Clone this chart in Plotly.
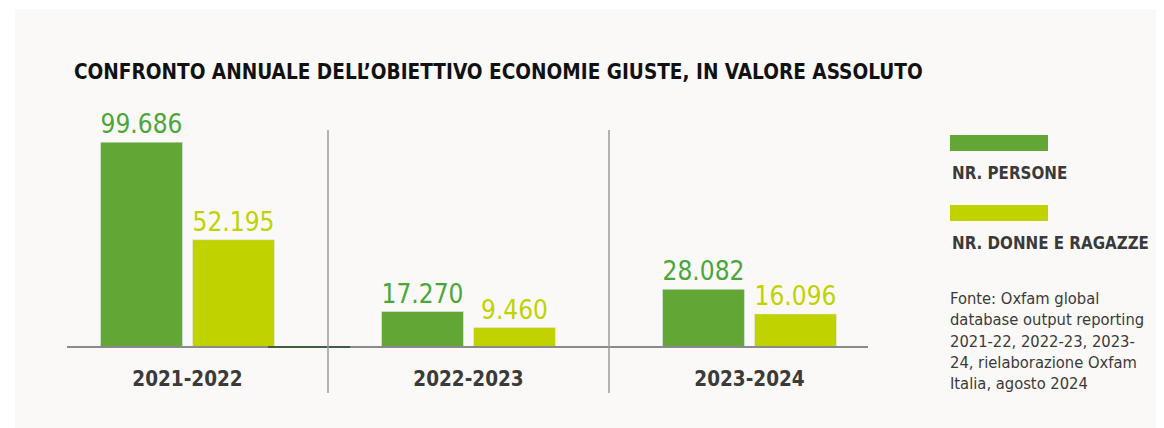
import plotly.graph_objects as go

categories = ["2021-2022", "2022-2023", "2023-2024"]
persone = [99686, 17270, 28082]
donne = [52195, 9460, 16096]
series_names = ["NR. PERSONE", "NR. DONNE E RAGAZZE"]
title_text = "CONFRONTO ANNUALE DELL’OBIETTIVO ECONOMIE GIUSTE, IN VALORE ASSOLUTO"
source_text = ("Fonte: Oxfam global<br>database output reporting<br>2021-22, 2022-23, 2023-"
               "<br>24, rielaborazione Oxfam<br>Italia, agosto 2024")

GREEN = "#62a736"
GREEN_TXT = "#4ba63a"
YELLOW = "#c0d200"
DARK = "#3a3a3a"
FONT = "DejaVu Sans Condensed, Liberation Sans Narrow, Roboto, sans-serif"

# the page body has an 8px margin; reference pixel coords are shifted by it
O = 8
W, H = 1164 - O, 428 - O
L, R, T, B = 47 - O, 274, 121 - O, 81
PW = W - L - R
PH = H - T - B


def px(x):
    return (x - O - L) / PW


def py(y):
    return (H - B - (y - O)) / PH


fig = go.Figure()
fig.add_trace(go.Bar(
    x=categories, y=persone, name=series_names[0], marker_color=GREEN,
    texttemplate="%{y:,}", textposition="outside",
    textfont=dict(color=GREEN_TXT, size=26, family=FONT), cliponaxis=False,
))
fig.add_trace(go.Bar(
    x=categories, y=donne, name=series_names[1], marker_color=YELLOW,
    texttemplate="%{y:,}", textposition="outside",
    textfont=dict(color=YELLOW, size=26, family=FONT), cliponaxis=False,
))

shapes = [
    dict(type="rect", xref="paper", yref="paper", x0=px(15), x1=px(1170), y0=py(440), y1=py(9),
         fillcolor="#faf9f7", line_width=0, layer="below"),
    dict(type="line", xref="paper", yref="paper", x0=px(67), x1=px(868), y0=0, y1=0,
         line=dict(color="#8a8a8a", width=2)),
    dict(type="line", xref="paper", yref="paper", x0=px(268), x1=px(350), y0=0, y1=0,
         line=dict(color="#3f5d40", width=2)),
]
for sep in [0.5, 1.5]:
    shapes.append(dict(type="line", xref="x", yref="paper", x0=sep, x1=sep, y0=py(393), y1=py(130),
                       line=dict(color="#9a9a9a", width=1.5)))
shapes.append(dict(type="rect", xref="paper", yref="paper", x0=px(950), x1=px(1048), y0=py(151), y1=py(135),
                   fillcolor=GREEN, line_width=0))
shapes.append(dict(type="rect", xref="paper", yref="paper", x0=px(950), x1=px(1048), y0=py(221), y1=py(205),
                   fillcolor=YELLOW, line_width=0))

annotations = [
    dict(text=title_text, xref="paper", yref="paper", x=px(72), y=py(72), xanchor="left", yanchor="middle",
         showarrow=False, font=dict(family=FONT, size=20.6, color="#111111", weight=700)),
    dict(text=series_names[0], xref="paper", yref="paper", x=px(950), y=py(173), xanchor="left",
         yanchor="middle", showarrow=False, font=dict(family=FONT, size=16.8, color=DARK, weight=700)),
    dict(text=series_names[1], xref="paper", yref="paper", x=px(950), y=py(243), xanchor="left",
         yanchor="middle", showarrow=False, font=dict(family=FONT, size=16.8, color=DARK, weight=700)),
    dict(text=source_text, xref="paper", yref="paper", x=px(948), y=py(287), xanchor="left",
         yanchor="top", align="left", showarrow=False,
         font=dict(family=FONT, size=16.4, color=DARK)),
]

fig.update_layout(
    width=W, height=H,
    margin=dict(l=L, r=R, t=T, b=B, pad=0),
    paper_bgcolor="#ffffff", plot_bgcolor="rgba(0,0,0,0)",
    barmode="group", bargap=0.345, bargroupgap=0.11,
    separators=",.",
    showlegend=False,
    shapes=shapes, annotations=annotations,
)
fig.update_xaxes(showgrid=False, showline=False, zeroline=False, ticks="",
                 range=[-0.5, 2.5], ticklabelstandoff=17,
                 tickfont=dict(family=FONT, size=20.5, color=DARK, weight=700))
fig.update_yaxes(range=[0, 110000], visible=False, showgrid=False, zeroline=False)

fig.write_html("out.html")
